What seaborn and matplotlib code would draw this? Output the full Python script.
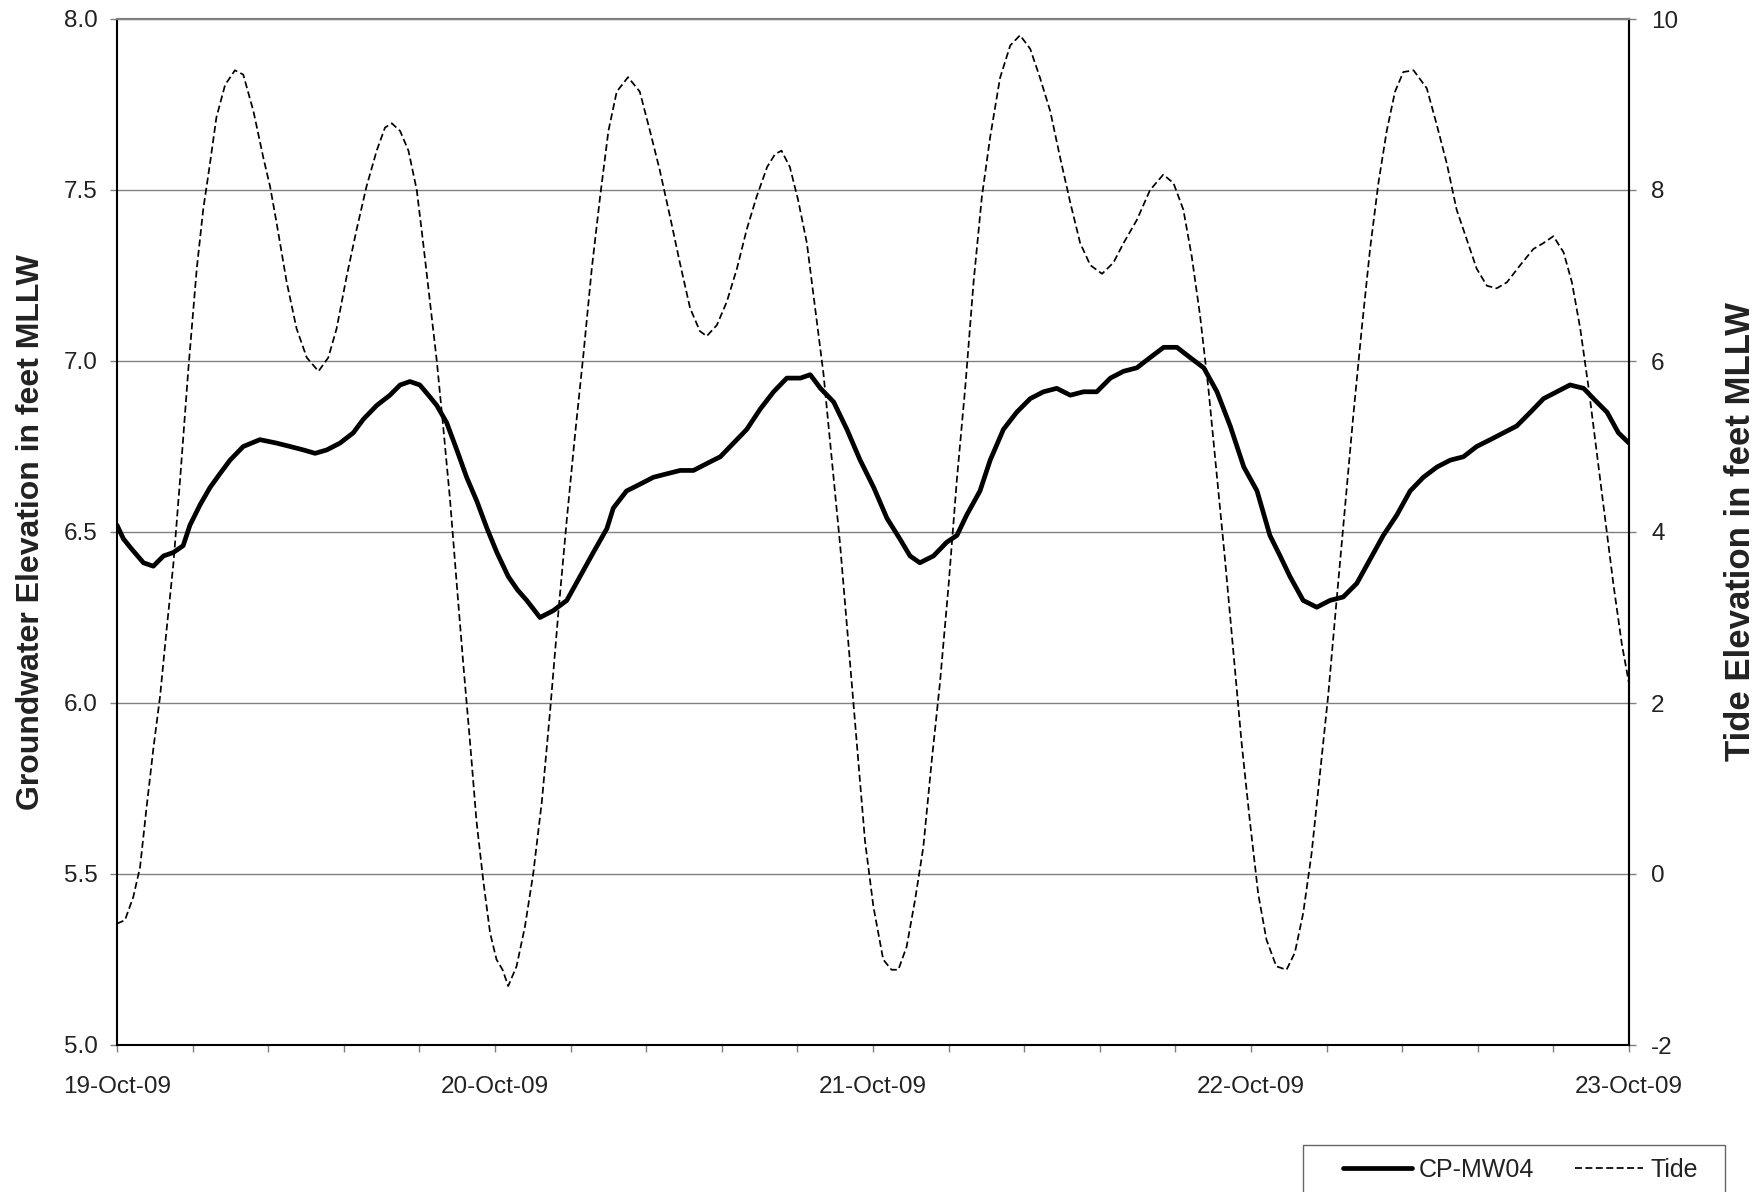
import numpy as np
import pandas as pd
import matplotlib
matplotlib.use("Agg")
import matplotlib.pyplot as plt
import matplotlib.dates as mdates
from matplotlib.ticker import MultipleLocator, FormatStrFormatter
from matplotlib.lines import Line2D
from matplotlib.patches import Rectangle
import seaborn as sns

# ---------------- data (days after 19-Oct-09 00:00) ----------------
gw_days = [0.000, 0.017, 0.039, 0.070, 0.096, 0.123, 0.149, 0.175, 0.193, 0.220,
           0.246, 0.272, 0.299, 0.334, 0.378, 0.422, 0.458, 0.493, 0.524, 0.555,
           0.590, 0.625, 0.652, 0.687, 0.722, 0.749, 0.775, 0.801, 0.824, 0.846,
           0.872, 0.899, 0.925, 0.952, 0.979, 1.005, 1.035, 1.060, 1.084, 1.119,
           1.154, 1.190, 1.225, 1.260, 1.296, 1.313, 1.348, 1.384, 1.419, 1.454,
           1.490, 1.525, 1.560, 1.596, 1.631, 1.666, 1.702, 1.737, 1.772, 1.808,
           1.834, 1.861, 1.896, 1.931, 1.966, 2.002, 2.037, 2.071, 2.098, 2.124,
           2.160, 2.195, 2.222, 2.248, 2.283, 2.310, 2.345, 2.380, 2.416, 2.451,
           2.486, 2.522, 2.557, 2.592, 2.628, 2.663, 2.698, 2.733, 2.769, 2.804,
           2.839, 2.875, 2.910, 2.945, 2.981, 3.016, 3.050, 3.077, 3.103, 3.138,
           3.174, 3.209, 3.244, 3.280, 3.315, 3.350, 3.386, 3.421, 3.456, 3.492,
           3.527, 3.562, 3.597, 3.633, 3.668, 3.703, 3.739, 3.774, 3.809, 3.844,
           3.880, 3.906, 3.942, 3.972, 4.000]
gw_values = [6.52, 6.48, 6.45, 6.41, 6.40, 6.43, 6.44, 6.46, 6.52, 6.58,
             6.63, 6.67, 6.71, 6.75, 6.77, 6.76, 6.75, 6.74, 6.73, 6.74,
             6.76, 6.79, 6.83, 6.87, 6.90, 6.93, 6.94, 6.93, 6.90, 6.87,
             6.82, 6.74, 6.66, 6.59, 6.51, 6.44, 6.37, 6.33, 6.30, 6.25,
             6.27, 6.30, 6.37, 6.44, 6.51, 6.57, 6.62, 6.64, 6.66, 6.67,
             6.68, 6.68, 6.70, 6.72, 6.76, 6.80, 6.86, 6.91, 6.95, 6.95,
             6.96, 6.92, 6.88, 6.80, 6.71, 6.63, 6.54, 6.48, 6.43, 6.41,
             6.43, 6.47, 6.49, 6.55, 6.62, 6.71, 6.80, 6.85, 6.89, 6.91,
             6.92, 6.90, 6.91, 6.91, 6.95, 6.97, 6.98, 7.01, 7.04, 7.04,
             7.01, 6.98, 6.91, 6.81, 6.69, 6.62, 6.49, 6.43, 6.37, 6.30,
             6.28, 6.30, 6.31, 6.35, 6.42, 6.49, 6.55, 6.62, 6.66, 6.69,
             6.71, 6.72, 6.75, 6.77, 6.79, 6.81, 6.85, 6.89, 6.91, 6.93,
             6.92, 6.89, 6.85, 6.79, 6.76]

tide_days = [0.000, 0.021, 0.043, 0.061, 0.078, 0.096, 0.114, 0.131, 0.149, 0.167,
             0.189, 0.211, 0.228, 0.246, 0.263, 0.286, 0.312, 0.334, 0.361, 0.387,
             0.405, 0.422, 0.449, 0.475, 0.502, 0.533, 0.559, 0.581, 0.608, 0.634,
             0.660, 0.687, 0.709, 0.727, 0.749, 0.771, 0.793, 0.810, 0.828, 0.846,
             0.863, 0.881, 0.899, 0.916, 0.934, 0.951, 0.969, 0.987, 1.004, 1.020,
             1.035, 1.057, 1.079, 1.101, 1.124, 1.146, 1.168, 1.190, 1.212, 1.234,
             1.256, 1.278, 1.300, 1.322, 1.352, 1.383, 1.410, 1.436, 1.463, 1.489,
             1.516, 1.542, 1.560, 1.587, 1.613, 1.640, 1.666, 1.692, 1.720, 1.741,
             1.758, 1.780, 1.802, 1.825, 1.847, 1.869, 1.891, 1.913, 1.935, 1.957,
             1.979, 2.001, 2.027, 2.049, 2.067, 2.089, 2.111, 2.133, 2.155, 2.177,
             2.200, 2.222, 2.244, 2.266, 2.288, 2.310, 2.336, 2.363, 2.389, 2.416,
             2.442, 2.469, 2.495, 2.522, 2.548, 2.575, 2.606, 2.636, 2.663, 2.698,
             2.733, 2.768, 2.795, 2.821, 2.843, 2.865, 2.887, 2.909, 2.931, 2.953,
             2.975, 2.997, 3.019, 3.041, 3.067, 3.094, 3.116, 3.138, 3.160, 3.182,
             3.204, 3.227, 3.249, 3.271, 3.293, 3.315, 3.337, 3.359, 3.381, 3.403,
             3.430, 3.465, 3.491, 3.518, 3.544, 3.571, 3.597, 3.624, 3.650, 3.677,
             3.712, 3.747, 3.774, 3.800, 3.827, 3.849, 3.871, 3.893, 3.915, 3.937,
             3.959, 3.981, 4.000]
tide_values = [-0.58, -0.54, -0.27, 0.08, 0.77, 1.46, 2.08, 2.85, 3.62, 4.62,
               5.92, 7.08, 7.77, 8.31, 8.85, 9.23, 9.40, 9.35, 8.92, 8.38,
               8.04, 7.62, 6.92, 6.38, 6.04, 5.88, 6.04, 6.38, 7.00, 7.54,
               8.04, 8.46, 8.73, 8.78, 8.69, 8.46, 8.00, 7.38, 6.69, 6.00,
               5.23, 4.38, 3.38, 2.46, 1.54, 0.62, -0.08, -0.69, -1.00, -1.12,
               -1.31, -1.08, -0.62, 0.00, 0.85, 1.92, 3.08, 4.15, 5.15, 6.08,
               7.08, 7.92, 8.69, 9.15, 9.32, 9.15, 8.69, 8.23, 7.69, 7.15,
               6.62, 6.35, 6.29, 6.42, 6.69, 7.08, 7.54, 7.92, 8.27, 8.42,
               8.46, 8.27, 7.88, 7.38, 6.62, 5.85, 4.85, 3.85, 2.69, 1.54,
               0.38, -0.38, -1.00, -1.12, -1.12, -0.85, -0.31, 0.31, 1.31, 2.23,
               3.38, 4.62, 5.69, 6.92, 7.92, 8.62, 9.31, 9.69, 9.81, 9.65,
               9.31, 8.92, 8.38, 7.85, 7.38, 7.12, 7.02, 7.15, 7.38, 7.65,
               8.00, 8.18, 8.08, 7.77, 7.23, 6.54, 5.69, 4.69, 3.69, 2.62,
               1.54, 0.62, -0.23, -0.77, -1.08, -1.12, -0.92, -0.46, 0.23, 1.15,
               2.08, 3.23, 4.31, 5.38, 6.38, 7.31, 8.08, 8.69, 9.15, 9.38,
               9.40, 9.19, 8.77, 8.31, 7.77, 7.42, 7.08, 6.88, 6.85, 6.92,
               7.12, 7.31, 7.38, 7.46, 7.27, 6.92, 6.38, 5.69, 4.92, 4.15,
               3.38, 2.69, 2.23]

series_labels = ["CP-MW04", "Tide"]
left_label = "Groundwater Elevation in feet MLLW"
right_label = "Tide Elevation in feet MLLW"
start_date = "2009-10-19"
end_date = "2009-10-23"

# ---------------- build frames ----------------
base = pd.Timestamp(start_date)
gw_df = pd.DataFrame({"time": base + pd.to_timedelta(gw_days, unit="D"), "value": gw_values})
tide_df = pd.DataFrame({"time": base + pd.to_timedelta(tide_days, unit="D"), "value": tide_values})

sns.set_style("white")
plt.rcParams["font.family"] = ["Liberation Sans", "DejaVu Sans"]
plt.rcParams["axes.unicode_minus"] = False

W, H = 1763, 1192
fig = plt.figure(figsize=(W / 100, H / 100), dpi=100)
ax = fig.add_axes([117 / W, 1 - 1045 / H, (1629 - 117) / W, (1045 - 19) / H])
ax2 = ax.twinx()

text_color = "#222222"
fs = 17.5
dash = (0, (4, 2))

# groundwater (left axis)
sns.lineplot(data=gw_df, x="time", y="value", ax=ax, color="black", linewidth=3.4,
             solid_capstyle="round", solid_joinstyle="round", zorder=3)
# tide (right axis)
sns.lineplot(data=tide_df, x="time", y="value", ax=ax2, color="black", linewidth=1.25,
             linestyle=dash, zorder=3)

ax.set_ylim(5.0, 8.0)
ax.yaxis.set_major_locator(MultipleLocator(0.5))
ax.yaxis.set_major_formatter(FormatStrFormatter("%.1f"))
ax2.set_ylim(-2, 10)
ax2.yaxis.set_major_locator(MultipleLocator(2))

ax.set_xlim(base, pd.Timestamp(end_date))
ax.xaxis.set_major_locator(mdates.DayLocator())
ax.xaxis.set_major_formatter(mdates.DateFormatter("%d-%b-%y"))
ax.xaxis.set_minor_locator(MultipleLocator(0.2))

ax.grid(axis="y", color="#808080", linewidth=1.0)
ax.grid(axis="x", visible=False)
ax2.grid(False)

ax.set_xlabel("")
ax.set_ylabel(left_label, fontsize=23, fontweight="bold", color=text_color, labelpad=13)
ax2.set_ylabel(right_label, fontsize=25, fontweight="bold", color=text_color, labelpad=33)

ax.tick_params(axis="y", which="major", direction="out", length=5, width=1, color="#808080",
               labelsize=fs, labelcolor=text_color, pad=9, left=True)
ax.tick_params(axis="x", which="both", direction="out", length=5, width=1, color="#808080",
               labelsize=fs, labelcolor=text_color, pad=17, bottom=True)
ax2.tick_params(axis="y", which="major", direction="out", length=5, width=1, color="#808080",
                labelsize=fs, labelcolor=text_color, pad=11, right=True)

for a in (ax, ax2):
    for s in ("left", "bottom", "right"):
        a.spines[s].set_color("black")
        a.spines[s].set_linewidth(1.5)
    a.spines["top"].set_color("#808080")
    a.spines["top"].set_linewidth(1.5)
    a.set_facecolor("none")
ax2.spines["left"].set_visible(False)
ax2.spines["bottom"].set_visible(False)
ax.set_zorder(2)
ax2.set_zorder(3)

# legend box (frame) and entries
fig.patches.append(Rectangle((1303 / W, 1 - 1200 / H), (1725 - 1303) / W, (1200 - 1145) / H,
                             transform=fig.transFigure, facecolor="white",
                             edgecolor="#666666", linewidth=1.0, zorder=1))
handles = [Line2D([0], [0], color="black", linewidth=3.4, solid_capstyle="round"),
           Line2D([0], [0], color="black", linewidth=1.25, linestyle=dash)]
leg = fig.legend(handles, series_labels, loc="center left",
                 bbox_to_anchor=(1343 / W, 1 - 1170 / H), ncol=2, fontsize=18,
                 frameon=False, handlelength=2.75, handletextpad=0.3,
                 columnspacing=1.6, borderpad=0, borderaxespad=0)
for t in leg.get_texts():
    t.set_color(text_color)

fig.savefig("out.png", dpi=100, facecolor="white")
